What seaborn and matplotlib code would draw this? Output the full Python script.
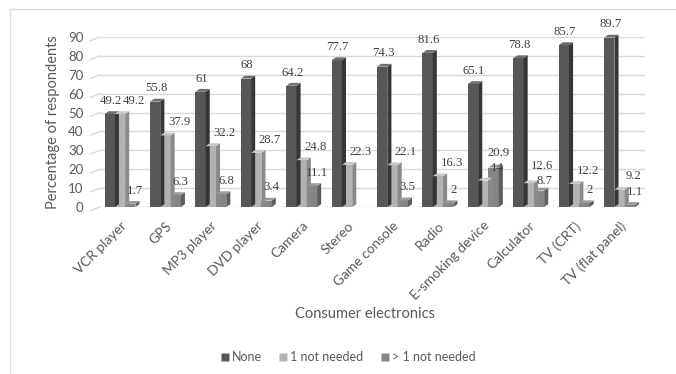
import numpy as np
import pandas as pd
import matplotlib
matplotlib.use("Agg")
import matplotlib.pyplot as plt
import seaborn as sns
from matplotlib.patches import Polygon, Rectangle
from matplotlib.lines import Line2D
import matplotlib.transforms as mtransforms

categories = ["VCR player", "GPS", "MP3 player", "DVD player", "Camera", "Stereo",
              "Game console", "Radio", "E-smoking device", "Calculator", "TV (CRT)",
              "TV (flat panel)"]
series_names = ["None", "1 not needed", "> 1 not needed"]
none_vals = [49.2, 55.8, 61, 68, 64.2, 77.7, 74.3, 81.6, 65.1, 78.8, 85.7, 89.7]
one_vals = [49.2, 37.9, 32.2, 28.7, 24.8, 22.3, 22.1, 16.3, 14, 12.6, 12.2, 9.2]
more_vals = [1.7, 6.3, 6.8, 3.4, 11.1, np.nan, 3.5, 2, 20.9, 8.7, 2, 1.1]
y_ticks = [0, 10, 20, 30, 40, 50, 60, 70, 80, 90]

colors = ["#575757", "#b3b3b3", "#858585"]
side_colors = ["#363636", "#8a8a8a", "#5e5e5e"]
top_colors = ["#6e6e6e", "#c8c8c8", "#9a9a9a"]
label_shift = [0.02, 0.30, 0.11]

rows = []
for name, vals in zip(series_names, [none_vals, one_vals, more_vals]):
    for c, v in zip(categories, vals):
        rows.append({"cat": c, "series": name, "val": v})
df = pd.DataFrame(rows)

sns.set_theme(style="white")
plt.rcParams["font.family"] = ["Lato", "DejaVu Sans"]

fig = plt.figure(figsize=(6.76, 3.74), dpi=100)
ax = fig.add_axes([100 / 676, 1 - 207 / 374, 545 / 676, 170 / 374])

sns.barplot(data=df, x="cat", y="val", hue="series", order=categories,
            hue_order=series_names, palette=colors, width=0.68, ax=ax,
            legend=False, saturation=1, linewidth=0, errorbar=None)

ax.set_ylim(0, 90)
ax.set_xlim(-0.44, 11.56)
ax.set_yticks(y_ticks)
ax.yaxis.grid(True, color="#d9d9d9", linewidth=1)
ax.set_axisbelow(True)
for s in ax.spines.values():
    s.set_visible(False)

# small 3D floor slant at the left of each gridline
slant = mtransforms.blended_transform_factory(ax.transAxes, ax.transData)
for t in y_ticks:
    ax.plot([-0.018, 0.0], [t - 2.0, t], color="#d9d9d9", lw=1, transform=slant,
            clip_on=False, zorder=0.5)

# pseudo-3D faces derived from bar patches
depth_x = 0.09
depth_y = 1.5
labels = {}  # (series, group) -> [x, y, offset_pts, text]
for i, cont in enumerate(ax.containers):
    for bar in cont:
        h = bar.get_height()
        if not np.isfinite(h):
            continue
        x0 = bar.get_x()
        w = bar.get_width()
        x1 = x0 + w
        g = int(round(x0 + w / 2))
        side = Polygon([[x1, 0], [x1 + depth_x, depth_y], [x1 + depth_x, h + depth_y], [x1, h]],
                       closed=True, facecolor=side_colors[i], edgecolor="none", zorder=2.5,
                       clip_on=False)
        top = Polygon([[x0, h], [x0 + depth_x, h + depth_y], [x1 + depth_x, h + depth_y], [x1, h]],
                      closed=True, facecolor=top_colors[i], edgecolor="none", zorder=2.5,
                      clip_on=False)
        ax.add_patch(side)
        ax.add_patch(top)
        labels[(i, g)] = [x0 + w / 2 + label_shift[i], h, 9.5, f"{h:g}"]

# keep labels of the two small series apart vertically (points)
pt_per_unit = (170 / 90) * 72 / 100
min_gap = 11.0
for g in range(len(categories)):
    if (1, g) in labels and (2, g) in labels:
        a = labels[(1, g)]
        b = labels[(2, g)]
        ya = a[1] * pt_per_unit + a[2]
        yb = b[1] * pt_per_unit + b[2]
        gap = ya - yb
        if abs(gap) < min_gap:
            d = (min_gap - abs(gap)) / 2
            sgn = 1 if gap >= 0 else -1
            a[2] += sgn * d
            b[2] -= sgn * d

for (i, g), (x, y, off, txt) in labels.items():
    ax.annotate(txt, (x, y), xytext=(0, off), textcoords="offset points",
                ha="center", va="center", fontsize=9.2, family=["Liberation Serif"],
                color="#404040", zorder=4, annotation_clip=False)

ax.tick_params(axis="y", length=0, labelsize=9.5, labelcolor="#595959", pad=12)
ax.tick_params(axis="x", length=0, labelsize=9.8, labelcolor="#595959", pad=9)
plt.setp(ax.get_xticklabels(), rotation=45, ha="right", rotation_mode="anchor")
ax.set_xlabel("")
ax.set_ylabel("Percentage of respondents", fontsize=10.5, color="#595959", labelpad=6)
fig.text(365 / 676, 1 - 314 / 374, "Consumer electronics", ha="center", va="center",
         fontsize=10.5, color="#595959")

handles = [Line2D([0], [0], marker="s", linestyle="none", markersize=6,
                  markerfacecolor=c, markeredgecolor="none") for c in colors]
fig.legend(handles, series_names, loc="center", bbox_to_anchor=(347 / 676, 1 - 357 / 374), ncol=3,
           frameon=False, fontsize=9, labelcolor="#595959", handletextpad=0.05,
           columnspacing=1.2, handlelength=1.0)

fig.patches.append(Rectangle((10 / 676, -0.1), 1.1, 1 - 9 / 374 + 0.1, transform=fig.transFigure,
                             fill=False, edgecolor="#d9d9d9", linewidth=1))

fig.savefig("out.png", dpi=100)
